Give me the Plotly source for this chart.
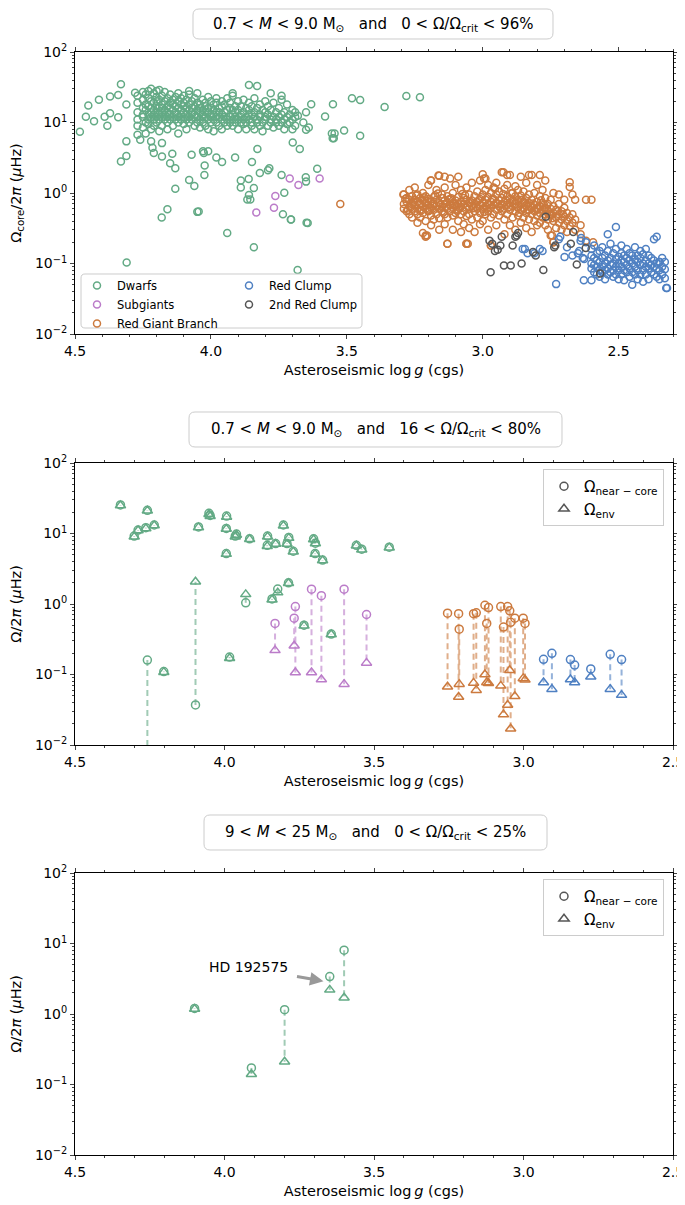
import math
import plotly.graph_objects as go

# page is 685x1205; the html body adds an 8px margin, so the figure is 677x1197
OFF = 8
W, H = 685 - OFF, 1205 - OFF

# ---------------- DATA : top panel (log g, Omega_core/2pi in muHz) ----------------
dwarf_cluster_cols = [
    (4.27, [14, 19, 11, 24, 9]), (4.25, [16, 12, 21, 27, 8.5, 13]), (4.24, [18, 10, 25, 15, 7]),
    (4.23, [22, 13, 17, 11, 28, 9.5]), (4.22, [14, 20, 12, 16, 8, 30]), (4.21, [26, 15, 11, 19, 13, 9]),
    (4.20, [17, 23, 12, 14, 10, 20, 28]), (4.19, [29, 16, 13, 21, 11, 7.5]), (4.18, [18, 14, 24, 12, 9, 16]),
    (4.17, [20, 15, 27, 11, 13]), (4.16, [17, 22, 12, 14, 10, 8]), (4.15, [19, 25, 13, 16, 11]),
    (4.14, [15, 21, 12, 18, 9]), (4.13, [23, 14, 17, 11, 13]), (4.12, [16, 20, 12, 26, 10, 7]),
    (4.11, [18, 13, 15, 22, 11]), (4.10, [14, 19, 12, 17, 9.5, 24]), (4.09, [16, 21, 13, 11, 8]),
    (4.08, [15, 18, 12, 25, 10, 28]), (4.07, [20, 14, 16, 11, 13]), (4.06, [17, 13, 22, 9, 12]),
    (4.05, [15, 19, 12, 26, 10]), (4.04, [18, 14, 11, 16, 8.5]), (4.03, [13, 21, 15, 12, 10]),
    (4.02, [17, 12, 19, 9, 14]), (4.01, [14, 23, 11, 16, 8]), (4.00, [16, 12, 20, 10, 13]),
    (3.99, [13, 18, 11, 15, 7.5]), (3.98, [19, 14, 10, 12, 22]), (3.97, [12, 16, 9, 14]),
    (3.96, [17, 11, 13, 20, 8]), (3.95, [14, 10, 18, 12]), (3.94, [11, 15, 22, 9]),
    (3.93, [16, 12, 10, 19]), (3.92, [13, 9, 15, 11, 24, 26]), (3.91, [17, 10, 12, 14]),
    (3.90, [11, 15, 8, 20]), (3.89, [13, 10, 17, 12]), (3.88, [9.5, 14, 21, 11]),
    (3.87, [12, 16, 8, 10]), (3.86, [15, 11, 19, 13, 34]), (3.85, [10, 13, 9, 17]),
    (3.84, [12, 22, 14, 8]), (3.83, [11, 16, 10, 33]), (3.82, [13, 9, 18, 12]),
    (3.81, [10, 15, 7.5]), (3.80, [12, 20, 11, 14]), (3.79, [9, 13, 17]),
    (3.78, [11, 15, 10, 26]), (3.77, [8.5, 12, 19]), (3.76, [14, 10, 11]),
    (3.75, [12, 9, 16]), (3.74, [10, 13, 21, 24]), (3.73, [11, 8, 14]),
    (3.72, [9.5, 12, 18]), (3.71, [10, 13]), (3.70, [8, 11, 15]), (3.69, [9, 12, 14]),
    (3.66, [10]), (3.65, [14]), (3.64, [8.5]),
]
dwarf_extra_logg = [4.482, 4.460, 4.451, 4.430, 4.412, 4.391, 4.381, 4.371, 4.371, 4.341, 4.331, 4.341,
                    4.331, 4.311, 4.311, 4.311, 4.279, 4.260, 4.270, 4.22, 4.215, 4.21, 4.18, 4.18, 4.15,
                    4.142, 4.131, 4.181, 4.160, 4.131, 4.080, 4.061, 4.071, 4.029, 4.026, 4.010, 4.050,
                    4.045, 4.023, 4.024, 3.980, 3.959, 3.940, 3.911, 3.890, 3.890, 3.861, 3.860, 3.855,
                    3.866, 3.842, 3.849, 3.829, 3.82, 3.79, 3.785, 3.740, 3.730, 3.735, 3.706, 3.281,
                    3.231, 3.361, 3.481, 3.451, 3.551, 3.631, 3.580, 3.680, 3.650, 3.510, 3.555, 3.545,
                    3.552, 3.548, 3.451, 3.699, 3.673, 3.609, 3.650, 3.651, 3.705, 3.644, 3.681, 4.310,
                    3.842, 3.648]
dwarf_extra_omega = [7.4, 12.1, 17.4, 10.4, 21.1, 12.1, 9.0, 23.3, 13.5, 24.5, 34.8, 11.9,
                     2.8, 3.35, 5.4, 18, 26.5, 5.7, 6.7, 5.4, 4.4, 3.7, 5.1, 3.3, 2.64,
                     3.6, 2.24, 0.45, 0.59, 1.15, 1.53, 1.26, 3.5, 3.9, 3.7, 3.9, 0.54,
                     0.545, 2.45, 1.8, 3.2, 2.75, 0.27, 3.2, 1.5, 1.2, 1.58, 0.94, 0.81,
                     0.81, 1.18, 2.75, 4.2, 1.92, 2.1, 2.25, 1.8, 1.01, 0.5, 0.42, 23.8,
                     22.8, 16.6, 22, 20.9, 18.1, 18.1, 12.2, 12.5, 7.9, 7.7, 7.0, 7.0,
                     6.0, 6.0, 6.5, 5.2, 4.2, 2.2, 1.45, 1.67, 0.42, 0.375, 0.081, 0.103,
                     0.17, 0.38]

subgiant_logg = [3.710, 3.678, 3.600, 3.763, 3.768, 3.833]
subgiant_omega = [1.6, 1.3, 1.6, 0.91, 0.62, 0.53]

rgb_cluster_cols = [
    (3.29, [0.95, 0.7, 0.6]), (3.28, [0.75, 0.55, 0.85]), (3.27, [0.65, 1.1, 0.5, 0.8]),
    (3.26, [0.7, 0.6, 0.9, 0.45]), (3.25, [0.8, 0.55, 0.68, 1.2]), (3.24, [0.6, 0.75, 0.5, 0.95, 0.38]),
    (3.23, [0.7, 0.85, 0.58, 0.45]), (3.22, [0.65, 1.0, 0.52, 0.78, 0.27]), (3.21, [0.72, 0.6, 0.9, 0.24, 0.4]),
    (3.20, [0.68, 0.55, 0.82, 1.3]), (3.19, [0.62, 0.75, 1.5, 0.48, 0.35]), (3.18, [0.7, 0.58, 0.88, 0.42]),
    (3.17, [0.66, 0.8, 0.5, 1.1]), (3.16, [0.72, 0.6, 1.75, 0.44, 0.3]), (3.15, [0.64, 0.85, 0.55, 0.95]),
    (3.14, [0.7, 0.5, 0.78, 1.2, 0.36]), (3.13, [0.6, 0.74, 0.9, 0.45, 0.19]), (3.12, [0.68, 0.55, 1.6, 0.82]),
    (3.11, [0.72, 0.62, 0.48, 1.0, 0.3]), (3.10, [0.66, 0.78, 0.52, 1.3]), (3.09, [0.7, 0.58, 0.88, 0.4]),
    (3.08, [0.64, 0.75, 1.1, 0.5, 0.28]), (3.07, [0.7, 0.55, 0.85, 0.36]), (3.06, [0.62, 0.8, 0.47, 1.2, 0.19]),
    (3.05, [0.72, 0.6, 0.95, 0.5, 0.32]), (3.04, [0.66, 0.78, 0.42, 1.4]), (3.03, [0.7, 0.55, 0.9, 0.28]),
    (3.02, [0.75, 0.6, 1.05, 0.45]), (3.01, [0.68, 0.82, 0.52, 1.5, 0.36]), (3.00, [0.72, 0.6, 0.95, 1.85, 0.4]),
    (2.99, [0.8, 0.65, 1.1, 0.5, 1.6]), (2.98, [0.7, 0.88, 0.55, 1.3, 0.3]), (2.97, [0.75, 0.62, 1.0, 0.45, 0.18]),
    (2.96, [0.68, 0.82, 1.2, 0.5]), (2.95, [0.72, 0.58, 0.95, 1.4, 0.35]), (2.94, [0.78, 0.65, 1.05, 0.48]),
    (2.93, [0.7, 0.85, 0.55, 1.97]), (2.92, [0.74, 0.6, 1.15, 0.42, 0.26]), (2.91, [0.68, 0.9, 0.5, 1.3]),
    (2.90, [0.72, 0.58, 0.82, 1.8, 0.35]), (2.89, [0.65, 0.78, 1.0, 0.45]), (2.88, [0.7, 0.55, 0.9, 1.25, 0.3]),
    (2.87, [0.62, 0.8, 0.48, 1.1]), (2.86, [0.68, 0.58, 0.92, 1.7, 0.38]), (2.85, [0.6, 0.75, 0.45, 1.05]),
    (2.84, [0.66, 0.52, 0.85, 1.4, 0.32]), (2.83, [0.58, 0.72, 0.42, 0.95]), (2.82, [0.62, 0.5, 0.8, 1.8, 0.28]),
    (2.81, [0.55, 0.68, 0.4, 1.0]), (2.80, [0.6, 0.48, 0.75, 1.3, 0.35]), (2.79, [0.52, 0.65, 0.38, 0.9]),
    (2.78, [0.58, 0.45, 0.72, 1.1]), (2.77, [0.5, 0.62, 0.35, 0.85, 1.5]), (2.76, [0.55, 0.42, 0.7, 0.3]),
    (2.75, [0.48, 0.6, 0.25, 0.8]), (2.74, [0.52, 0.4, 0.65, 0.2, 1.0]), (2.73, [0.45, 0.58, 0.32]),
    (2.72, [0.5, 0.38, 0.7, 0.95]), (2.71, [0.42, 0.55, 0.3]), (2.70, [0.46, 0.35, 0.62, 0.8]),
    (2.69, [0.4, 0.52, 0.28]), (2.68, [1.42, 1.22, 0.45, 0.34]), (2.67, [0.95, 0.38, 0.5]),
    (2.66, [0.8, 0.3, 0.42]), (2.64, [0.35, 0.26]), (2.62, [0.8, 0.21]), (2.60, [0.8]), (2.594, [0.2]),
]
rgb_extra_logg = [3.524, 3.292, 3.191, 3.163, 3.14, 3.09, 2.995, 2.924, 2.91, 2.83, 2.79, 3.21, 3.205,
                  3.06, 3.055, 3.13, 2.97, 2.745, 2.74,
                  3.285, 3.265, 3.245, 3.225, 3.205, 3.185, 3.165, 3.145, 3.125, 3.105, 3.085, 3.065,
                  3.045, 3.025, 3.005, 2.985, 2.965, 2.945, 2.925, 2.905, 2.885, 2.865, 2.845, 2.825,
                  2.805, 2.785, 2.765, 2.745, 2.725, 2.705,
                  3.275, 3.255, 3.235, 3.215, 3.195, 3.175, 3.155, 3.135, 3.115, 3.095, 3.075, 3.055,
                  3.035, 3.015, 2.995, 2.975, 2.955, 2.935, 2.915, 2.895, 2.875, 2.855, 2.835, 2.815,
                  2.795, 2.775, 2.755]
rgb_extra_omega = [0.70, 0.95, 1.51, 1.77, 1.7, 1.7, 1.6, 1.97, 1.8, 1.8, 1.8, 0.25, 0.25,
                   0.19, 0.19, 0.19, 0.18, 0.25, 0.2,
                   0.82, 0.63, 0.92, 0.57, 0.77, 0.66, 0.98, 0.53, 0.81, 0.69, 0.61, 0.93,
                   0.74, 0.64, 0.87, 0.6, 0.83, 0.69, 0.97, 0.63, 0.78, 0.52, 0.73, 0.66,
                   0.56, 0.79, 0.6, 0.44, 0.55, 0.5,
                   0.58, 0.74, 0.67, 0.86, 0.57, 0.93, 0.69, 0.63, 0.84, 0.56, 0.97, 0.66,
                   0.61, 0.79, 0.54, 0.67, 1.15, 0.62, 0.79, 0.99, 0.64, 0.8, 0.57, 0.71,
                   0.6, 0.68, 0.5]

rc_cluster_cols = [
    (2.60, [0.1, 0.13, 0.085, 0.16]), (2.59, [0.12, 0.075, 0.095, 0.18]), (2.58, [0.09, 0.14, 0.07, 0.11]),
    (2.57, [0.105, 0.08, 0.15, 0.065]), (2.56, [0.12, 0.09, 0.17, 0.075]), (2.55, [0.1, 0.13, 0.08, 0.06]),
    (2.54, [0.11, 0.085, 0.15, 0.07, 0.26]), (2.53, [0.095, 0.12, 0.075, 0.19]), (2.52, [0.1, 0.14, 0.08, 0.065]),
    (2.51, [0.115, 0.09, 0.16, 0.07, 0.33]), (2.50, [0.1, 0.125, 0.08, 0.06]), (2.49, [0.09, 0.14, 0.11, 0.07, 0.18]),
    (2.48, [0.105, 0.08, 0.13, 0.058]), (2.47, [0.095, 0.12, 0.075, 0.16]), (2.46, [0.11, 0.085, 0.14, 0.065]),
    (2.45, [0.1, 0.13, 0.075, 0.05]), (2.44, [0.09, 0.115, 0.07, 0.17]), (2.43, [0.105, 0.08, 0.13, 0.06]),
    (2.42, [0.095, 0.12, 0.07, 0.15]), (2.41, [0.1, 0.08, 0.135, 0.055]), (2.40, [0.09, 0.11, 0.07, 0.16]),
    (2.39, [0.1, 0.085, 0.13, 0.06]), (2.38, [0.095, 0.075, 0.12]), (2.37, [0.09, 0.11, 0.07, 0.22]),
    (2.36, [0.085, 0.1, 0.065, 0.24]), (2.35, [0.08, 0.105, 0.06]), (2.34, [0.09, 0.07, 0.12]),
    (2.33, [0.083, 0.062, 0.105]), (2.325, [0.045]),
]
rc_extra_logg = [2.730, 2.628, 2.600, 2.78, 2.72, 2.699, 2.845, 2.835, 2.81, 2.79, 2.64, 2.62, 2.715,
                 2.638, 2.627, 2.632, 2.65, 2.645, 2.322, 2.349, 2.853, 2.69, 2.67]
rc_extra_omega = [0.051, 0.058, 0.058, 0.15, 0.22, 0.124, 0.16, 0.14, 0.14, 0.16, 0.21, 0.20, 0.24,
                  0.23, 0.116, 0.12, 0.14, 0.15, 0.045, 0.105, 0.16, 0.17, 0.13]

rc2_logg = [2.971, 2.922, 2.897, 2.857, 2.777, 2.975, 2.965, 2.955, 2.945, 2.935, 2.930, 2.89, 2.88,
            2.875, 2.87, 2.815, 2.805, 2.768, 2.737, 2.733, 2.667, 2.676, 2.654, 2.621, 2.568]
rc2_omega = [0.075, 0.094, 0.094, 0.10, 0.081, 0.21, 0.19, 0.15, 0.157, 0.18, 0.24, 0.18, 0.24,
             0.25, 0.27, 0.145, 0.13, 0.46, 0.17, 0.18, 0.28, 0.19, 0.097, 0.166, 0.072]

# ---------------- DATA : middle panel (log g, Omega_near-core, Omega_env) ----------------
mid_green_logg = [4.348, 4.258, 4.302, 4.289, 4.263, 4.235, 4.087, 4.052, 4.048, 3.993, 3.994, 3.994,
                  3.964, 3.960, 3.916, 3.856, 3.857, 3.829, 3.803, 3.785, 3.791, 3.770, 3.702, 3.696,
                  3.697, 3.672, 3.559, 3.541, 3.449, 4.258, 4.203, 4.097, 3.929, 3.983, 3.841, 3.822,
                  3.786, 3.734, 3.643]
mid_green_core = [25.4, 21.3, 9.2, 11.2, 12.1, 13.2, 12.4, 19.3, 18.0, 17.7, 11.8, 5.2,
                  9.2, 9.8, 8.4, 9.2, 6.8, 7.2, 13.2, 8.8, 7.2, 5.6, 8.4, 7.3,
                  5.2, 4.2, 6.8, 6.0, 6.4, 0.16, 0.11, 0.037, 1.04, 0.177, 1.18, 1.63,
                  2.0, 0.50, 0.375]
mid_green_env = [25.0, 21.0, 9.0, 11.0, 11.8, 13.0, 12.2, 18.8, 17.6, 17.2, 11.6, 5.1,
                 9.0, 9.5, 8.3, 9.0, 6.6, 7.1, 12.9, 8.6, 7.1, 5.5, 8.2, 7.2,
                 5.1, 4.15, 6.7, 5.9, 6.3, 0.004, 0.108, 2.07, 1.37, 0.17, 1.15, 1.45,
                 1.97, 0.49, 0.37]

mid_purple_logg = [3.831, 3.763, 3.767, 3.709, 3.676, 3.600, 3.525]
mid_purple_core = [0.53, 0.92, 0.63, 1.62, 1.31, 1.62, 0.71]
mid_purple_env = [0.22, 0.107, 0.256, 0.107, 0.085, 0.073, 0.146]

mid_orange_logg = [3.254, 3.217, 3.215, 3.167, 3.158, 3.129, 3.117, 3.123, 3.076, 3.067, 3.053,
                   3.046, 3.043, 3.029, 3.001, 2.995]
mid_orange_core = [0.74, 0.73, 0.44, 0.73, 0.75, 0.96, 0.89, 0.53, 0.92, 0.47, 0.92,
                   0.80, 0.55, 0.63, 0.63, 0.53]
mid_orange_env = [0.067, 0.048, 0.073, 0.076, 0.060, 0.10, 0.075, 0.077, 0.069, 0.027, 0.037,
                  0.115, 0.017, 0.049, 0.088, 0.084]

mid_blue_logg = [2.933, 2.905, 2.843, 2.829, 2.775, 2.710, 2.672]
mid_blue_core = [0.164, 0.20, 0.163, 0.136, 0.12, 0.193, 0.163]
mid_blue_env = [0.077, 0.062, 0.085, 0.077, 0.093, 0.062, 0.051]

# ---------------- DATA : bottom panel ----------------
bot_logg = [4.100, 3.910, 3.799, 3.648, 3.600]
bot_core = [1.20, 0.172, 1.15, 3.40, 8.05]
bot_env = [1.18, 0.14, 0.21, 2.20, 1.70]
hd_logg, hd_omega = 3.669, 2.92

x_ticks = [4.5, 4.0, 3.5, 3.0, 2.5]
y_ticks = [0.01, 0.1, 1, 10, 100]
y_ticktext = ["10<sup>\u22122</sup>", "10<sup>\u22121</sup>", "10<sup>0</sup>", "10<sup>1</sup>", "10<sup>2</sup>"]

# ---------------- STYLE ----------------
GREEN = "#63aa85"
PURPLE = "#bb7cc9"
ORANGE = "#cc7a3e"
BLUE = "#4f80c2"
GRAY = "#555555"
FONT = "DejaVu Sans"


def fx(p):  # page pixel -> paper x
    return (p - OFF) / W


def fy(p):  # page pixel -> paper y
    return 1 - (p - OFF) / H


def flatten(cols, ex_x, ex_y):
    xs, ys = [], []
    for g, vals in cols:
        for v in vals:
            xs.append(g)
            ys.append(v)
    return xs + list(ex_x), ys + list(ex_y)


fig = go.Figure()

PX0, PX1 = 75, 673
panels = [(52, 334), (463, 745), (873, 1155)]


def ydom(p):
    t, b = p
    return [fy(b), fy(t)]


xdom = [fx(PX0), fx(PX1)]

groups = [
    ("Dwarfs", GREEN, flatten(dwarf_cluster_cols, dwarf_extra_logg, dwarf_extra_omega), "legend"),
    ("Subgiants", PURPLE, (subgiant_logg, subgiant_omega), "legend"),
    ("Red Giant Branch", ORANGE, flatten(rgb_cluster_cols, rgb_extra_logg, rgb_extra_omega), "legend"),
    ("Red Clump", BLUE, flatten(rc_cluster_cols, rc_extra_logg, rc_extra_omega), "legend4"),
    ("2nd Red Clump", GRAY, (rc2_logg, rc2_omega), "legend4"),
]
for name, col, (xs, ys), lg in groups:
    fig.add_trace(go.Scatter(x=xs, y=ys, mode="markers", name=name,
                             marker=dict(symbol="circle-open", color=col, size=7, line=dict(width=1.5)),
                             xaxis="x", yaxis="y", legend=lg))


def add_pairs(lx, core, env, col, xa, ya):
    lxs, lys = [], []
    for g, c, e in zip(lx, core, env):
        lxs += [g, g, None]
        lys += [c, e, None]
    fig.add_trace(go.Scatter(x=lxs, y=lys, mode="lines", showlegend=False, opacity=0.6,
                             line=dict(color=col, width=2, dash="6px,4px"), xaxis=xa, yaxis=ya))
    fig.add_trace(go.Scatter(x=lx, y=env, mode="markers", showlegend=False,
                             marker=dict(symbol="triangle-up-open", color=col, size=9, line=dict(width=1.5)),
                             xaxis=xa, yaxis=ya))
    fig.add_trace(go.Scatter(x=lx, y=core, mode="markers", showlegend=False,
                             marker=dict(symbol="circle-open", color=col, size=8, line=dict(width=1.5)),
                             xaxis=xa, yaxis=ya))


add_pairs(mid_green_logg, mid_green_core, mid_green_env, GREEN, "x2", "y2")
add_pairs(mid_purple_logg, mid_purple_core, mid_purple_env, PURPLE, "x2", "y2")
add_pairs(mid_orange_logg, mid_orange_core, mid_orange_env, ORANGE, "x2", "y2")
add_pairs(mid_blue_logg, mid_blue_core, mid_blue_env, BLUE, "x2", "y2")
add_pairs(bot_logg, bot_core, bot_env, GREEN, "x3", "y3")

for xa, ya, lg in [("x2", "y2", "legend2"), ("x3", "y3", "legend3")]:
    fig.add_trace(go.Scatter(x=[None], y=[None], mode="markers", name="\u03a9<sub>near \u2212 core</sub>",
                             marker=dict(symbol="circle-open", color=GRAY, size=8, line=dict(width=1.5)),
                             xaxis=xa, yaxis=ya, legend=lg))
    fig.add_trace(go.Scatter(x=[None], y=[None], mode="markers", name="\u03a9<sub>env</sub>",
                             marker=dict(symbol="triangle-up-open", color=GRAY, size=9, line=dict(width=1.5)),
                             xaxis=xa, yaxis=ya, legend=lg))


def xaxis_cfg(rng, anchor):
    return dict(domain=xdom, range=rng, anchor=anchor, tickmode="array", tickvals=x_ticks,
                ticktext=["%.1f" % t for t in x_ticks], ticks="outside", ticklen=4, tickwidth=1,
                showline=True, linecolor="black", linewidth=1, mirror="ticks", showgrid=False,
                zeroline=False, automargin=False, tickfont=dict(size=14, color="black"),
                minor=dict(dtick=0.1, ticks="outside", ticklen=2, tickwidth=0.8, showgrid=False),
                title=dict(text="Asteroseismic log\u2009<i>g</i> (cgs)", font=dict(size=14.5, color="black"),
                           standoff=7))


def yaxis_cfg(p, anchor, title):
    return dict(domain=ydom(p), type="log", range=[-2, 2], anchor=anchor, tickmode="array",
                tickvals=y_ticks, ticktext=y_ticktext, ticks="outside", ticklen=4, tickwidth=1,
                showline=True, linecolor="black", linewidth=1, mirror="ticks", showgrid=False,
                zeroline=False, automargin=False, tickfont=dict(size=14, color="black"),
                minor=dict(dtick="D1", ticks="outside", ticklen=2, tickwidth=0.8, showgrid=False),
                title=dict(text=title, font=dict(size=14.5, color="black"), standoff=20))


fig.update_layout(
    width=W, height=H, margin=dict(l=0, r=0, t=0, b=0, autoexpand=False),
    plot_bgcolor="white", paper_bgcolor="white",
    font=dict(family=FONT, color="black"),
    xaxis=xaxis_cfg([4.5, 2.3], "y"),
    yaxis=yaxis_cfg(panels[0], "x", "\u03a9<sub>core</sub>/2<i>\u03c0</i> (<i>\u03bc</i>Hz)"),
    xaxis2=xaxis_cfg([4.5, 2.5], "y2"),
    yaxis2=yaxis_cfg(panels[1], "x2", "\u03a9/2<i>\u03c0</i> (<i>\u03bc</i>Hz)"),
    xaxis3=xaxis_cfg([4.5, 2.5], "y3"),
    yaxis3=yaxis_cfg(panels[2], "x3", "\u03a9/2<i>\u03c0</i> (<i>\u03bc</i>Hz)"),
    legend=dict(x=fx(77), y=fy(271), xanchor="left", yanchor="top", orientation="v",
                borderwidth=0, bgcolor="rgba(0,0,0,0)", font=dict(size=11.5), tracegroupgap=0),
    legend4=dict(x=fx(229), y=fy(271), xanchor="left", yanchor="top", orientation="v",
                 borderwidth=0, bgcolor="rgba(0,0,0,0)", font=dict(size=11.5), tracegroupgap=0),
    legend2=dict(x=fx(664), y=fy(469), xanchor="right", yanchor="top", bordercolor="#cccccc",
                 borderwidth=1, bgcolor="white", font=dict(size=15)),
    legend3=dict(x=fx(664), y=fy(879), xanchor="right", yanchor="top", bordercolor="#cccccc",
                 borderwidth=1, bgcolor="white", font=dict(size=15)),
    showlegend=True,
)


def rrect(x0, y0, x1, y1, r):
    def P(x, y):
        return "%f,%f" % (fx(x), fy(y))
    return ("M " + P(x0 + r, y0) + " L " + P(x1 - r, y0) + " Q " + P(x1, y0) + " " + P(x1, y0 + r) +
            " L " + P(x1, y1 - r) + " Q " + P(x1, y1) + " " + P(x1 - r, y1) +
            " L " + P(x0 + r, y1) + " Q " + P(x0, y1) + " " + P(x0, y1 - r) +
            " L " + P(x0, y0 + r) + " Q " + P(x0, y0) + " " + P(x0 + r, y0) + " Z")


NB = "\u00a0"
titles = [
    ((193, 9, 553, 39), "0.7" + NB + "&lt;" + NB + "<i>M</i>" + NB + "&lt;" + NB + "9.0 M<sub>\u2299</sub>" + NB * 3 +
     "and" + NB * 3 + "0" + NB + "&lt;" + NB + "\u03a9/\u03a9<sub>crit</sub>" + NB + "&lt;" + NB + "96%"),
    ((189, 412, 562, 447), "0.7" + NB + "&lt;" + NB + "<i>M</i>" + NB + "&lt;" + NB + "9.0 M<sub>\u2299</sub>" + NB * 3 +
     "and" + NB * 3 + "16" + NB + "&lt;" + NB + "\u03a9/\u03a9<sub>crit</sub>" + NB + "&lt;" + NB + "80%"),
    ((204, 815, 547, 850), "9" + NB + "&lt;" + NB + "<i>M</i>" + NB + "&lt;" + NB + "25 M<sub>\u2299</sub>" + NB * 3 +
     "and" + NB * 3 + "0" + NB + "&lt;" + NB + "\u03a9/\u03a9<sub>crit</sub>" + NB + "&lt;" + NB + "25%"),
]
shapes = []
annots = []
for (x0, y0, x1, y1), txt in titles:
    shapes.append(dict(type="path", xref="paper", yref="paper", path=rrect(x0, y0, x1, y1, 6),
                       line=dict(color="#cccccc", width=1), fillcolor="white"))
    annots.append(dict(xref="paper", yref="paper", x=fx((x0 + x1) / 2), y=fy((y0 + y1) / 2),
                       text=txt, showarrow=False, font=dict(size=15, color="black"),
                       xanchor="center", yanchor="middle"))

# frame for the two-column legend of the top panel
shapes.append(dict(type="path", xref="paper", yref="paper", path=rrect(81, 274, 362, 328, 4),
                   line=dict(color="#cccccc", width=1), fillcolor="rgba(255,255,255,0.8)"))

# HD 192575 annotation
annots.append(dict(xref="x3", yref="y3", x=hd_logg, y=math.log10(hd_omega),
                   ax=-28, ay=-5, text="", showarrow=True, arrowhead=2, arrowsize=0.9, arrowwidth=3,
                   arrowcolor="#999999"))
annots.append(dict(xref="x3", yref="y3", x=hd_logg, y=math.log10(hd_omega),
                   ax=-75, ay=-14, text="HD 192575", showarrow=True, arrowwidth=0.1,
                   arrowcolor="rgba(0,0,0,0)", font=dict(size=14, color="black")))

fig.update_layout(shapes=shapes, annotations=annots)

fig.write_html("out.html")
